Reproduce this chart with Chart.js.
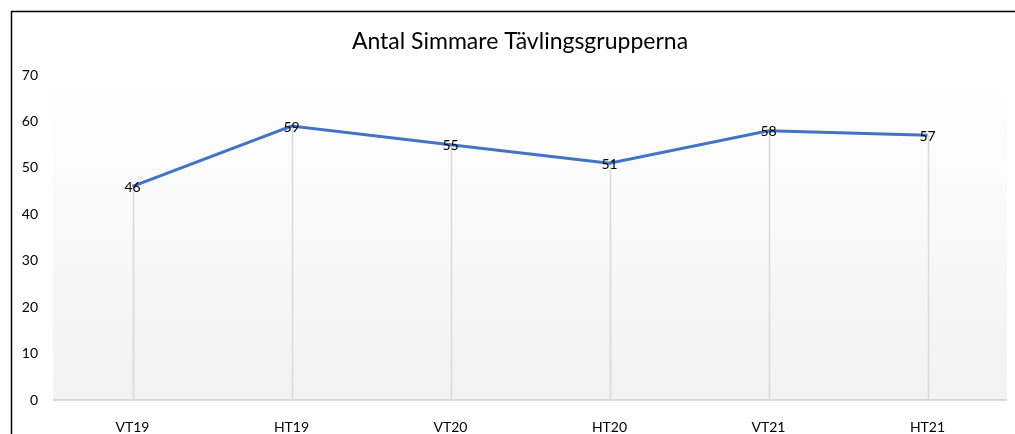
<!DOCTYPE html>
<html>
<head>
<meta charset="utf-8">
<script src="https://cdn.jsdelivr.net/npm/chart.js@4/dist/chart.umd.min.js"></script>
<style>
  html, body { margin: 0; padding: 0; background: #fff; }
  #wrap { width: 1015px; height: 434px; }
</style>
</head>
<body>
<div id="wrap"><canvas id="simChart" width="1015" height="434"></canvas></div>
<script>
// chart data
const terms = ['VT19', 'HT19', 'VT20', 'HT20', 'VT21', 'HT21'];
const swimmers = [46, 59, 55, 51, 58, 57];
const yTicks = [0, 10, 20, 30, 40, 50, 60, 70];
const chartTitle = 'Antal Simmare Tävlingsgrupperna';

const FONT = 'Lato, "Open Sans", sans-serif';

// background gradient, drop lines, baseline, labels, title and frame
const excelLook = {
    id: 'excelLook',
    beforeDatasetsDraw(chart) {
        const { ctx, chartArea: a, scales } = chart;
        ctx.save();
        const g = ctx.createLinearGradient(0, a.top, 0, a.bottom);
        g.addColorStop(0, '#ffffff');
        g.addColorStop(1, '#f2f2f2');
        ctx.fillStyle = g;
        ctx.fillRect(a.left, a.top, a.right - a.left, a.bottom - a.top);

        ctx.strokeStyle = '#d9d9d9';
        ctx.lineWidth = 1.5;
        const meta = chart.getDatasetMeta(0);
        meta.data.forEach(pt => {
            ctx.beginPath();
            ctx.moveTo(Math.round(pt.x) + 0.5, pt.y);
            ctx.lineTo(Math.round(pt.x) + 0.5, a.bottom);
            ctx.stroke();
        });
        ctx.lineWidth = 2;
        ctx.beginPath();
        ctx.moveTo(a.left, scales.y.getPixelForValue(0));
        ctx.lineTo(a.right, scales.y.getPixelForValue(0));
        ctx.stroke();
        ctx.restore();
    },
    afterDatasetsDraw(chart) {
        const { ctx } = chart;
        ctx.save();
        ctx.fillStyle = '#000';
        ctx.font = '14px ' + FONT;
        ctx.textAlign = 'center';
        ctx.textBaseline = 'middle';
        chart.getDatasetMeta(0).data.forEach((pt, i) => {
            ctx.fillText(String(swimmers[i]), pt.x, pt.y + 1);
        });
        ctx.restore();
    },
    afterDraw(chart) {
        const { ctx } = chart;
        ctx.save();
        ctx.fillStyle = '#000';
        ctx.font = '23px ' + FONT;
        ctx.textAlign = 'center';
        ctx.textBaseline = 'middle';
        ctx.fillText(chartTitle, 520, 42);

        ctx.strokeStyle = '#000';
        ctx.lineWidth = 1.5;
        ctx.beginPath();
        ctx.moveTo(11.5, chart.height);
        ctx.lineTo(11.5, 11.5);
        ctx.lineTo(chart.width, 11.5);
        ctx.stroke();
        ctx.restore();
    }
};

new Chart(document.getElementById('simChart'), {
    type: 'line',
    data: {
        labels: terms,
        datasets: [{
            label: 'Antal Simmare',
            data: swimmers,
            borderColor: '#4472c4',
            borderWidth: 3,
            pointRadius: 0,
            tension: 0
        }]
    },
    options: {
        responsive: false,
        animation: false,
        layout: { padding: { left: 0, right: 8, top: 75, bottom: 0 } },
        plugins: {
            legend: { display: false },
            tooltip: { enabled: false },
            title: { display: false }
        },
        scales: {
            x: {
                offset: true,
                grid: { display: false },
                border: { display: false },
                ticks: { color: '#000', font: { family: FONT, size: 14 }, padding: 11, maxRotation: 0 },
                afterFit: s => { s.height = 34; }
            },
            y: {
                min: 0,
                max: 70,
                grid: { display: false },
                border: { display: false },
                afterBuildTicks: s => { s.ticks = yTicks.map(v => ({ value: v })); },
                ticks: { color: '#000', font: { family: FONT, size: 14 }, padding: 7 },
                afterFit: s => { s.width = 53; }
            }
        }
    },
    plugins: [excelLook]
});
</script>
</body>
</html>
